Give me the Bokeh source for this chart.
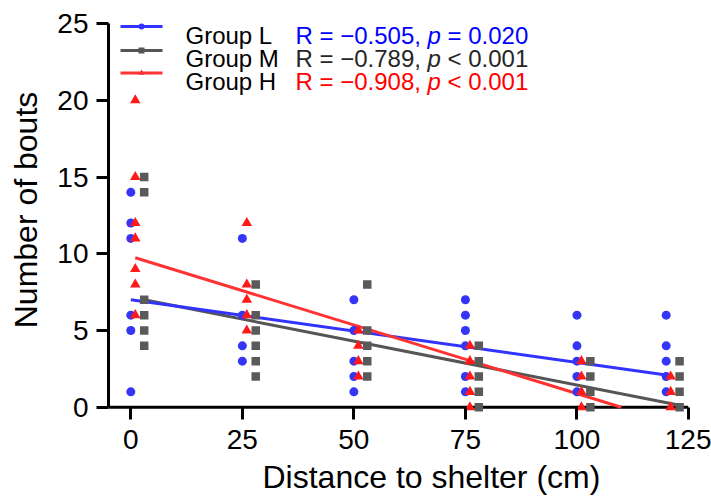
from bokeh.plotting import figure
from bokeh.models import Range1d, FixedTicker, Span, Title
from bokeh.embed import file_html
from bokeh.resources import INLINE
from bokeh.core.properties import value

# ---------------- data ----------------
distances = [0, 25, 50, 75, 100, 120]
x_ticks = [0, 25, 50, 75, 100, 125]
y_ticks = [0, 5, 10, 15, 20, 25]
group_names = ["Group L", "Group M", "Group H"]

L_bouts = [[14, 12, 11, 6, 5, 1], [11, 6, 4, 3], [7, 5, 3, 2, 1],
           [7, 6, 5, 4, 2, 1], [6, 4, 3, 2, 1], [6, 4, 3, 2, 1]]
M_bouts = [[15, 14, 7, 6, 5, 4], [8, 6, 5, 4, 3, 2], [8, 5, 4, 3, 2],
           [4, 3, 2, 1, 0], [3, 2, 1, 0], [3, 2, 1, 0]]
H_bouts = [[20, 15, 12, 11, 9, 8, 6], [12, 8, 7, 6, 5], [5, 4, 3, 2],
           [4, 3, 2, 1, 0], [3, 2, 1, 0], [2, 1, 0]]

fit_intercept = [7.0, 7.0, 9.74]
fit_slope = [-0.0408, -0.0573, -0.0894]
stat_r = ["\u22120.505", "\u22120.789", "\u22120.908"]
stat_p = ["= 0.020", "< 0.001", "< 0.001"]

# ---------------- style / layout ----------------
FONT = "Liberation Sans"
W, H = 711, 499
LEFT, RIGHT, TOP, BOTTOM = 108, 23, 0, 80
X0, X1 = -5, 125
Y0, Y1 = -0.8, 26.5
FW, FH = W - LEFT - RIGHT, H - TOP - BOTTOM

def px_x(px):
    return X0 + (px - LEFT) * (X1 - X0) / FW

def px_y(py):
    return Y1 - (py - TOP) * (Y1 - Y0) / FH

line_colors = ["#3333FF", "#555555", "#FF3333"]
point_colors = ["#3535F5", "#5A5A5A", "#FF1A1A"]
text_colors = ["#0000FF", "#262626", "#FF0000"]
markers = ["circle", "square", "triangle"]
msizes = [9, 8.5, 10.5]
offsets = [0, 3, 1]

p = figure(width=W, height=H, x_range=Range1d(X0, X1), y_range=Range1d(Y0, Y1),
           output_backend="svg", toolbar_location=None,
           min_border_left=LEFT, min_border_right=RIGHT,
           min_border_top=TOP, min_border_bottom=BOTTOM)
p.grid.visible = False
p.outline_line_color = None
p.background_fill_color = "white"
p.border_fill_color = "white"

p.yaxis.bounds = (0, 25)
p.xaxis.ticker = FixedTicker(ticks=x_ticks)
p.yaxis.ticker = FixedTicker(ticks=y_ticks)
for ax in (p.xaxis[0], p.yaxis[0]):
    ax.axis_line_width = 3
    ax.axis_line_color = "black"
    ax.major_tick_line_width = 3
    ax.major_tick_line_color = "black"
    ax.minor_tick_out = 0
    ax.minor_tick_in = 0
    ax.major_label_text_font = FONT
    ax.major_label_text_font_size = "28px"
    ax.major_label_text_color = "black"
# x axis: line drawn at y = 0 (span), ticks hang from it down to the frame edge
p.xaxis.axis_line_color = None
p.xaxis.major_tick_out = 0
p.xaxis.major_tick_in = 12
p.xaxis.major_label_standoff = 10
p.yaxis.major_tick_out = 12
p.yaxis.major_tick_in = 0
p.yaxis.major_label_standoff = 8
p.yaxis.axis_label = "Number of bouts"
p.yaxis.axis_label_text_font = FONT
p.yaxis.axis_label_text_font_size = "32px"
p.yaxis.axis_label_text_font_style = "normal"
p.yaxis.axis_label_text_color = "black"
p.yaxis.axis_label_standoff = 10

p.add_layout(Span(location=0, dimension="width", line_color="black",
                  line_width=3, level="underlay"))

p.add_layout(Title(text="Distance to shelter (cm)", align="left", offset=154,
                   text_font=FONT, text_font_size="32px", text_font_style="normal",
                   text_color="black", standoff=10), "below")

all_bouts = [L_bouts, M_bouts, H_bouts]

# regression lines
for i in [1, 0, 2]:
    a, b = fit_intercept[i], fit_slope[i]
    x_end = min(distances[-1], -a / b)
    xs = [distances[0], x_end]
    ys = [a + b * x for x in xs]
    p.line([x + offsets[i] for x in xs], ys, line_color=line_colors[i], line_width=3)

# points
for i in [0, 2, 1]:
    xs, ys = [], []
    for d, vals in zip(distances, all_bouts[i]):
        for v in vals:
            xs.append(d + offsets[i])
            ys.append(v)
    p.scatter(xs, ys, marker=markers[i], size=msizes[i],
              fill_color=point_colors[i], line_color=None)

# legend
line_rows = [26, 50, 72.5]
text_rows = [34.5, 58, 81]
for i in range(3):
    yl = px_y(line_rows[i])
    p.line([px_x(120), px_x(162)], [yl, yl], line_color=line_colors[i], line_width=3)
    p.scatter([px_x(141)], [yl], marker=markers[i], size=6,
              fill_color=line_colors[i], line_color=None)
    yt = px_y(text_rows[i])
    p.text([px_x(185)], [yt], text=[group_names[i]], text_font=value(FONT),
           text_font_size="24px", text_color="black", text_baseline="alphabetic")
    p.text([px_x(295)], [yt], text=["R = " + stat_r[i] + ","], text_font=value(FONT),
           text_font_size="24px", text_color=text_colors[i], text_baseline="alphabetic")
    p.text([px_x(295)], [yt], text=["p"], x_offset=132, text_font=value(FONT),
           text_font_size="24px", text_font_style="italic", text_color=text_colors[i],
           text_baseline="alphabetic")
    p.text([px_x(295)], [yt], text=[stat_p[i]], x_offset=152, text_font=value(FONT),
           text_font_size="24px", text_color=text_colors[i], text_baseline="alphabetic")

open("out.html", "w").write(file_html(p, INLINE))
